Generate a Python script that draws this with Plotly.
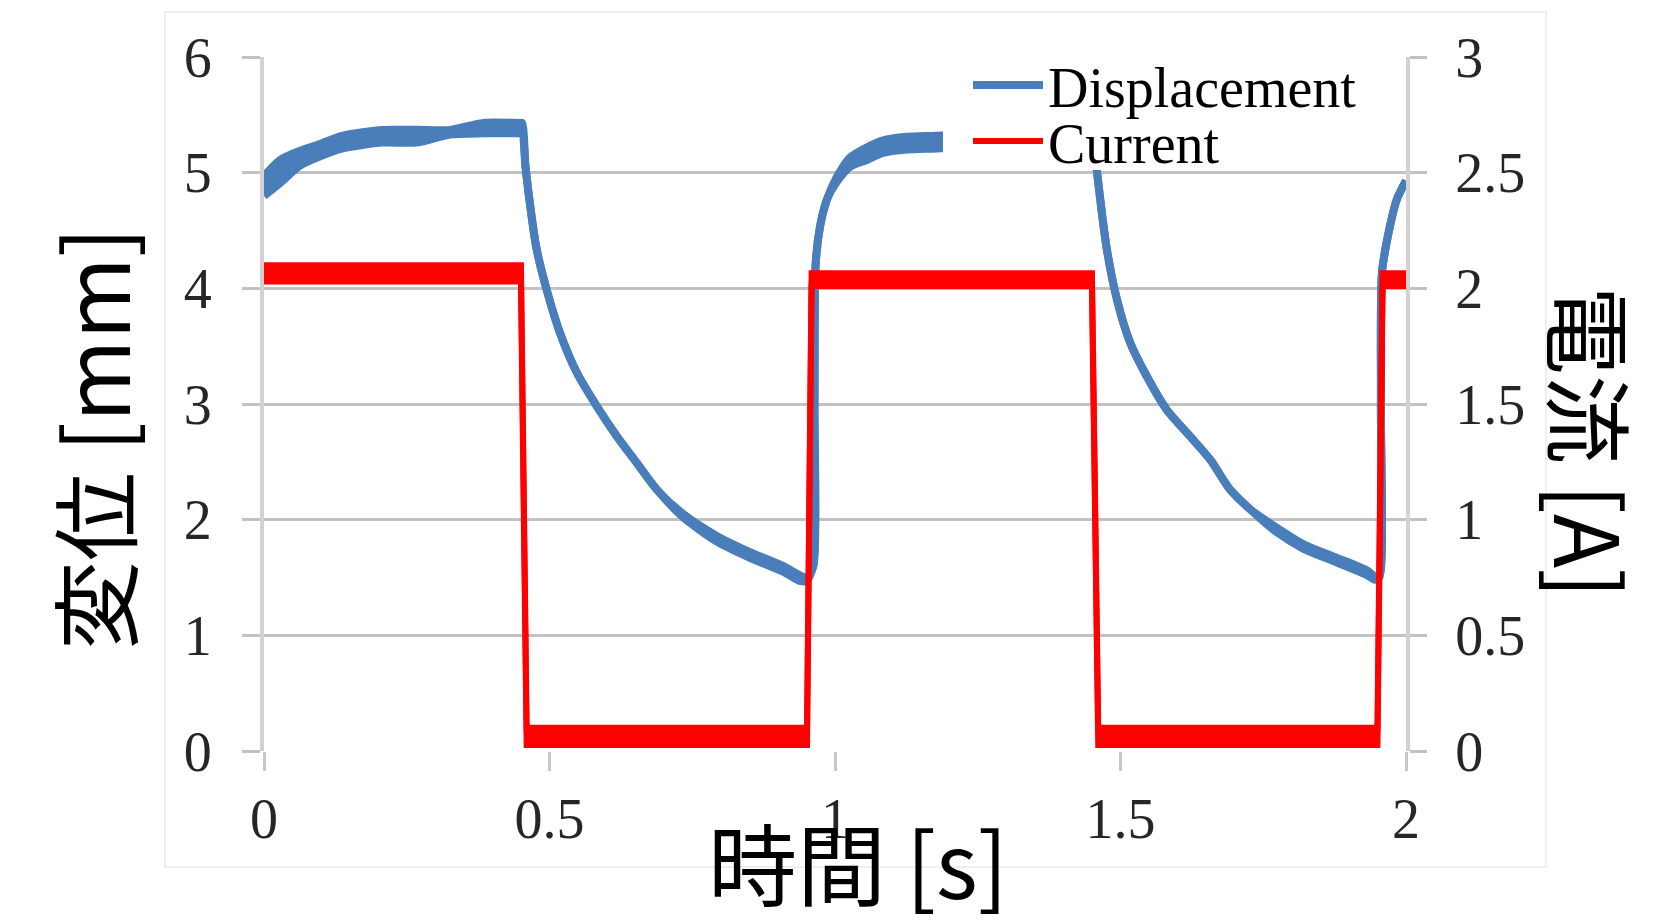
import plotly.graph_objects as go

# ---------------- data ----------------
# time axis for the displacement trace [s]
t_disp = [0.000, 0.028, 0.063, 0.093, 0.138, 0.208, 0.268, 0.326, 0.384, 0.448,
          0.452, 0.458, 0.466, 0.477, 0.496, 0.518, 0.548, 0.583, 0.618, 0.653,
          0.688, 0.734, 0.793, 0.851, 0.909, 0.938, 0.950,
          0.962, 0.964, 0.966, 0.974, 0.986, 1.003, 1.026, 1.056, 1.084, 1.126,
          1.178, 1.250, 1.350, 1.448,
          1.453, 1.459, 1.476, 1.494, 1.517, 1.546, 1.581, 1.622, 1.657, 1.692,
          1.727, 1.774, 1.820, 1.879, 1.932, 1.945,
          1.953, 1.956, 1.958, 1.972, 1.984, 2.000]
# lower / upper edge of the (noisy) displacement band [mm]
disp_lo = [4.80, 4.91, 5.06, 5.13, 5.21, 5.26, 5.26, 5.33, 5.34, 5.34,
           5.34, 5.05, 4.72, 4.35, 3.97, 3.62, 3.27, 2.98, 2.72, 2.49,
           2.26, 2.02, 1.81, 1.67, 1.55, 1.47, 1.47,
           1.60, 3.00, 4.20, 4.54, 4.77, 4.92, 5.05, 5.11, 5.17, 5.20,
           5.21, 5.23, 5.25, 5.26,
           5.24, 5.00, 4.34, 3.90, 3.53, 3.24, 2.95, 2.72, 2.52, 2.26,
           2.09, 1.89, 1.75, 1.63, 1.52, 1.48,
           1.50, 3.00, 4.14, 4.54, 4.77, 4.93]
disp_hi = [4.97, 5.11, 5.19, 5.24, 5.32, 5.37, 5.37, 5.37, 5.43, 5.43,
           5.43, 5.05, 4.72, 4.35, 3.97, 3.62, 3.27, 2.98, 2.72, 2.49,
           2.26, 2.05, 1.86, 1.72, 1.60, 1.52, 1.50,
           1.60, 3.00, 4.20, 4.54, 4.77, 4.96, 5.13, 5.22, 5.28, 5.31,
           5.32, 5.34, 5.36, 5.37,
           5.30, 5.00, 4.34, 3.90, 3.53, 3.24, 2.95, 2.72, 2.52, 2.26,
           2.09, 1.93, 1.79, 1.67, 1.56, 1.51,
           1.50, 3.00, 4.14, 4.54, 4.77, 4.93]

# time axis for the coil current trace [s]
t_cur = [0.000, 0.450, 0.460, 0.951, 0.959, 1.450, 1.461, 1.950, 1.959, 2.000]
# lower / upper edge of the (noisy) current band [A]
cur_lo = [2.030, 2.030, 0.026, 0.026, 2.010, 2.010, 0.026, 0.026, 2.010, 2.010]
cur_hi = [2.100, 2.100, 0.100, 0.100, 2.065, 2.065, 0.100, 0.100, 2.065, 2.065]

series_names = ["Displacement", "Current"]

x_tickvals = [0, 0.5, 1, 1.5, 2]
x_ticktext = ["0", "0.5", "1", "1.5", "2"]
y_tickvals = [0, 1, 2, 3, 4, 5, 6]
y_ticktext = ["0", "1", "2", "3", "4", "5", "6"]
y2_tickvals = [0, 0.5, 1, 1.5, 2, 2.5, 3]
y2_ticktext = ["0", "0.5", "1", "1.5", "2", "2.5", "3"]

x_title = "時間 [s]"
y_title = "変位 [mm]"
y2_title = "電流 [A]"

# ---------------- styling ----------------
BLUE = "#4A7EBB"
RED = "#FF0000"
GRID = "#c2c2c2"
AXLINE = "#d2d2d2"
TICKFONT = dict(family="Liberation Serif, Times New Roman, serif", size=56, color="#262626")
TITLEFONT = dict(family="Noto Sans CJK JP, Noto Sans, sans-serif", size=89, color="black")

fig = go.Figure()

disp_line = dict(color=BLUE, width=8, shape="spline", smoothing=0.7)
fig.add_trace(go.Scatter(x=t_disp, y=disp_hi, mode="lines", name=series_names[0],
                         line=disp_line, legend="legend", hoverinfo="skip"))
fig.add_trace(go.Scatter(x=t_disp, y=disp_lo, mode="lines", name=series_names[0],
                         line=disp_line, fill="tonexty",
                         fillcolor=BLUE, showlegend=False, hoverinfo="skip"))
fig.add_trace(go.Scatter(x=t_cur, y=cur_hi, mode="lines", name=series_names[1],
                         line=dict(color=RED, width=6), yaxis="y2", legend="legend2",
                         hoverinfo="skip"))
fig.add_trace(go.Scatter(x=t_cur, y=cur_lo, mode="lines", name=series_names[1],
                         line=dict(color=RED, width=6), fill="tonexty",
                         fillcolor=RED, yaxis="y2", showlegend=False, hoverinfo="skip"))

W, H = 1668, 923
ML, MR, MT, MB = 264, 262, 57, 172
PW, PH = W - ML - MR, H - MT - MB


def px_to_paper(px, py):
    return (px - ML) / PW, (H - MB - py) / PH


legend_common = dict(xanchor="left", yanchor="top", bgcolor="rgba(0,0,0,0)",
                     borderwidth=0, itemwidth=70,
                     font=dict(family="Liberation Serif, Times New Roman, serif",
                               size=56, color="black"))
lx, ly1 = px_to_paper(968, 42)
_, ly2 = px_to_paper(968, 98)

# legend background box (hides the curve behind the legend, as in the reference)
bx0, by0 = px_to_paper(943, 170)
bx1, by1 = px_to_paper(1392, 60)
# faint outer chart-area frame
fx0, fy0 = px_to_paper(165, 867)
fx1, fy1 = px_to_paper(1546, 12)

ax_y, ay_y = px_to_paper(91, 439)
ax_y2, ay_y2 = px_to_paper(1593, 442)
ax_x, ay_x = px_to_paper(858, 861)

fig.update_layout(
    width=W, height=H,
    margin=dict(l=ML, r=MR, t=MT, b=MB, pad=0),
    paper_bgcolor="white", plot_bgcolor="white",
    xaxis=dict(range=[0, 2], tickvals=x_tickvals, ticktext=x_ticktext,
               showgrid=False, zeroline=False, showline=False,
               ticks="outside", ticklen=19, tickwidth=3, tickcolor="#c8c8c8",
               tickfont=TICKFONT, ticklabelstandoff=0),
    yaxis=dict(range=[0, 6], tickvals=y_tickvals, ticktext=y_ticktext,
               showgrid=True, gridcolor=GRID, gridwidth=3, zeroline=False,
               showline=True, linecolor=AXLINE, linewidth=4,
               ticks="outside", ticklen=18, tickwidth=3, tickcolor=GRID,
               tickfont=TICKFONT, ticklabelstandoff=19),
    yaxis2=dict(range=[0, 3], tickvals=y2_tickvals, ticktext=y2_ticktext,
                overlaying="y", side="right", anchor="x",
                showgrid=False, zeroline=False,
                showline=True, linecolor=AXLINE, linewidth=4,
                ticks="outside", ticklen=17, tickwidth=3, tickcolor=GRID,
                tickfont=TICKFONT, ticklabelstandoff=17),
    legend=dict(x=lx, y=ly1, **legend_common),
    legend2=dict(x=lx, y=ly2, **legend_common),
    shapes=[
        dict(type="rect", xref="paper", yref="paper", x0=bx0, x1=bx1, y0=by0, y1=by1,
             fillcolor="white", line=dict(width=0), layer="above"),
        dict(type="rect", xref="paper", yref="paper", x0=fx0, x1=fx1, y0=fy0, y1=fy1,
             fillcolor="rgba(0,0,0,0)", line=dict(color="#efefef", width=2), layer="below"),
    ],
    annotations=[
        dict(text=y_title, xref="paper", yref="paper", x=ax_y, y=ay_y,
             xanchor="center", yanchor="middle", textangle=-90,
             showarrow=False, font=TITLEFONT),
        dict(text=y2_title, xref="paper", yref="paper", x=ax_y2, y=ay_y2,
             xanchor="center", yanchor="middle", textangle=90,
             showarrow=False, font=TITLEFONT),
        dict(text=x_title, xref="paper", yref="paper", x=ax_x, y=ay_x,
             xanchor="center", yanchor="middle",
             showarrow=False, font=TITLEFONT),
    ],
)

fig.write_html("out.html", config={"displayModeBar": False},
               post_script="document.body.style.margin='0';document.body.style.overflow='hidden';")
